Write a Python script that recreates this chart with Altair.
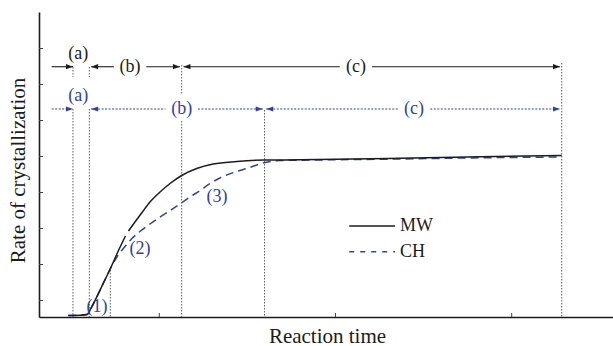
import altair as alt
import pandas as pd

# Crystallization rate vs. reaction time (arbitrary units) for the two routes
mw_time = [4.835, 5.50, 5.90, 6.16, 6.45, 6.82, 7.20, 7.67, 8.08,
           8.25, 8.62, 9.02, 9.47, 10.04, 10.61, 11.27, 12.12, 13.06, 14.39,
           16.0, 17.99, 23.66, 28.20, 32.84]
mw_rate = [0.583, 0.592, 0.611, 0.819, 1.097, 1.478, 1.861, 2.375, 2.792,
           2.931, 3.181, 3.444, 3.736, 4.014, 4.25, 4.472, 4.667, 4.792, 4.861,
           4.903, 4.908, 4.95, 4.992, 5.028]
mw_piece = [0] * 9 + [1] * 15

ch_time = [4.835, 5.50, 5.90, 6.16, 6.45, 6.82, 7.20, 7.43, 7.67, 8.05, 8.45,
           8.90, 9.47, 10.04, 10.61, 11.17, 11.74, 12.31, 12.88, 13.44, 14.30,
           15.15, 16.0, 16.85, 17.99, 23.66, 28.20, 32.84]
ch_rate = [0.583, 0.592, 0.611, 0.819, 1.097, 1.478, 1.861, 2.069, 2.264, 2.5,
           2.722, 2.917, 3.125, 3.319, 3.5, 3.681, 3.875, 4.056, 4.25, 4.403,
           4.569, 4.7, 4.833, 4.889, 4.897, 4.931, 4.964, 4.986]

# Stage boundaries (a) | (b) | (c) for each route
stage_names = ["(a)", "(b)", "(c)"]
mw_stage_edges = [5.10, 6.03, 11.27, 32.84]
ch_stage_edges = [5.10, 6.03, 15.97, 32.84]
mw_label_x = [5.40, 8.34, 21.16]
ch_label_x = [5.40, 11.27, 24.46]

# Growth steps (1)-(3) of the CH route
step_names = ["(1)", "(2)", "(3)"]
step_x = [6.46, 8.90, 13.27]
step_y = [0.833, 2.431, 3.889]

# Dotted guide lines: position, upper end, lower end
guide_x = [5.10, 5.10, 6.03, 6.03, 7.22, 11.27, 11.27, 15.97, 32.84]
guide_top = [7.486, 6.319, 7.486, 6.319, 1.847, 7.542, 5.986, 6.292, 7.597]
guide_bottom = [7.208, None, 7.208, None, None, 6.708, None, None, None]

x_ticks = [10, 20, 30]
y_ticks = [1, 2, 3, 4, 5, 6, 7, 8]

legend_names = ["MW", "CH"]

# ---------------------------------------------------------------- layout
X0, X1 = 3.173, 35.749
Y0, Y1 = 0.542, 9.014
W, H = 574, 305
BLACK = "#1c1c1c"
BLUE = "#34429e"
FONT = "Liberation Serif"
MW_ROW, CH_ROW = 7.494, 6.319
ARROW_START = 3.89
TIP_GAP = 0.1
LABEL_GAP = 0.92

xs = alt.Scale(domain=[X0, X1], nice=False, zero=False)
ys = alt.Scale(domain=[Y0, Y1], nice=False, zero=False)

X_AXIS = alt.Axis(
    title="Reaction time", ticks=False, labels=False, grid=False,
    domainColor=BLACK, domainWidth=1.6, titleFont=FONT, titleFontSize=21,
    titleFontWeight="normal", titleColor=BLACK, titleX=288, titleY=25,
    titleBaseline="alphabetic")
Y_AXIS = alt.Axis(
    title="Rate of crystallization", ticks=False, labels=False, grid=False,
    domainColor=BLACK, domainWidth=1.6, titleFont=FONT, titleFontSize=21,
    titleFontWeight="normal", titleColor=BLACK, titleAngle=270, titleX=-21,
    titleY=158, titleBaseline="middle", titleAlign="center")


def xq(field):
    return alt.X(f"{field}:Q", scale=xs, axis=X_AXIS)


def yq(field):
    return alt.Y(f"{field}:Q", scale=ys, axis=Y_AXIS)


mw_df = pd.DataFrame({"t": mw_time, "r": mw_rate, "piece": mw_piece})
ch_df = pd.DataFrame({"t": ch_time, "r": ch_rate})

guides_df = pd.DataFrame({
    "x": guide_x,
    "top": guide_top,
    "bottom": [Y0 if b is None else b for b in guide_bottom],
})


def stage_arrows(route, edges, label_x, row_y):
    shafts, heads = [], []
    shafts.append({"route": route, "a": ARROW_START, "b": edges[0], "y": row_y})
    heads.append({"route": route, "x": edges[0], "y": row_y, "dir": "right"})
    for lo, hi, lx in [(edges[1], edges[2], label_x[1]), (edges[2], edges[3], label_x[2])]:
        a, b = lo + TIP_GAP, hi - TIP_GAP
        shafts.append({"route": route, "a": a, "b": lx - LABEL_GAP, "y": row_y})
        shafts.append({"route": route, "a": lx + LABEL_GAP, "b": b, "y": row_y})
        heads.append({"route": route, "x": a, "y": row_y, "dir": "left"})
        heads.append({"route": route, "x": b, "y": row_y, "dir": "right"})
    return shafts, heads


mw_shafts, mw_heads = stage_arrows("MW", mw_stage_edges, mw_label_x, MW_ROW)
ch_shafts, ch_heads = stage_arrows("CH", ch_stage_edges, ch_label_x, CH_ROW)
heads_df = pd.DataFrame(mw_heads + ch_heads)

stage_labels = pd.DataFrame(
    [{"route": "MW", "x": x, "y": MW_ROW, "txt": n, "up": n == "(a)"}
     for n, x in zip(stage_names, mw_label_x)]
    + [{"route": "CH", "x": x, "y": CH_ROW, "txt": n, "up": n == "(a)"}
       for n, x in zip(stage_names, ch_label_x)]
)

route_color = alt.Color("route:N", scale=alt.Scale(domain=["MW", "CH"], range=[BLACK, BLUE]),
                        legend=None)

# ---------------------------------------------------------------- layers
guides = alt.Chart(guides_df).mark_rule(
    color="#333333", strokeWidth=0.8, strokeDash=[1.5, 1.5]
).encode(x=xq("x"), y=yq("top"), y2="bottom:Q")

mw_shaft_layer = alt.Chart(pd.DataFrame(mw_shafts)).mark_rule(
    color=BLACK, strokeWidth=1.1
).encode(x=xq("a"), x2="b:Q", y=yq("y"))

ch_shaft_layer = alt.Chart(pd.DataFrame(ch_shafts)).mark_rule(
    color=BLUE, strokeWidth=1.1, strokeDash=[2, 1.5]
).encode(x=xq("a"), x2="b:Q", y=yq("y"))

heads = alt.Chart(heads_df).mark_point(filled=True, size=16, opacity=1, strokeWidth=0).encode(
    x=xq("x"), y=yq("y"), color=route_color,
    shape=alt.Shape("dir:N", scale=alt.Scale(
        domain=["left", "right"],
        range=["M0,0L3.5,-1.3L3.5,1.3Z", "M0,0L-3.5,-1.3L-3.5,1.3Z"]), legend=None),
)

inline_labels = alt.Chart(stage_labels).transform_filter("!datum.up").mark_text(
    font=FONT, fontSize=18, baseline="middle", align="center"
).encode(x=xq("x"), y=yq("y"), text="txt:N", color=route_color)

upper_labels = alt.Chart(stage_labels).transform_filter("datum.up").mark_text(
    font=FONT, fontSize=18, baseline="middle", align="center", dy=-13
).encode(x=xq("x"), y=yq("y"), text="txt:N", color=route_color)

ch_line = alt.Chart(ch_df).mark_line(
    color=BLUE, strokeWidth=1.5, strokeDash=[8, 5], interpolate="monotone"
).encode(x=xq("t"), y=yq("r"))

mw_line = alt.Chart(mw_df).mark_line(
    color=BLACK, strokeWidth=1.5, interpolate="monotone"
).encode(x=xq("t"), y=yq("r"), detail="piece:N")

steps = alt.Chart(pd.DataFrame({"x": step_x, "y": step_y, "txt": step_names})).mark_text(
    font=FONT, fontSize=18, color=BLUE, baseline="middle", align="center"
).encode(x=xq("x"), y=yq("y"), text="txt:N")

y_tick_layer = alt.Chart(pd.DataFrame({"v": y_ticks})).mark_rule(
    color="#444444", strokeWidth=1
).encode(y=yq("v"), x=alt.value(0), x2=alt.value(4))

x_tick_layer = alt.Chart(pd.DataFrame({"v": x_ticks})).mark_rule(
    color="#444444", strokeWidth=1
).encode(x=xq("v"), y=alt.value(H), y2=alt.value(H - 4))

# Hand-drawn legend
LEG_X0, LEG_X1, LEG_TX = 20.78, 23.38, 23.66
LEG_Y = [3.069, 2.356]
leg_df = pd.DataFrame({"route": legend_names, "y": LEG_Y,
                       "a": [LEG_X0] * 2, "b": [LEG_X1] * 2, "tx": [LEG_TX] * 2})
leg_mw = alt.Chart(leg_df).transform_filter("datum.route == 'MW'").mark_rule(
    color=BLACK, strokeWidth=1.5).encode(x=xq("a"), x2="b:Q", y=yq("y"))
leg_ch = alt.Chart(leg_df).transform_filter("datum.route == 'CH'").mark_rule(
    color=BLUE, strokeWidth=1.5, strokeDash=[5, 6]).encode(x=xq("a"), x2="b:Q", y=yq("y"))
leg_txt = alt.Chart(leg_df).mark_text(
    font=FONT, fontSize=18, color=BLACK, align="left", baseline="middle"
).encode(x=xq("tx"), y=yq("y"), text="route:N")

chart = alt.layer(
    guides, mw_shaft_layer, ch_shaft_layer, heads, inline_labels, upper_labels,
    ch_line, mw_line, steps, y_tick_layer, x_tick_layer, leg_mw, leg_ch, leg_txt,
).properties(
    width=W, height=H, autosize="none",
    padding={"left": 39, "top": 12, "right": 0, "bottom": 29},
    background="white",
).configure_view(stroke=None)

chart.save("out.html", embed_options={"renderer": "svg", "actions": False})
